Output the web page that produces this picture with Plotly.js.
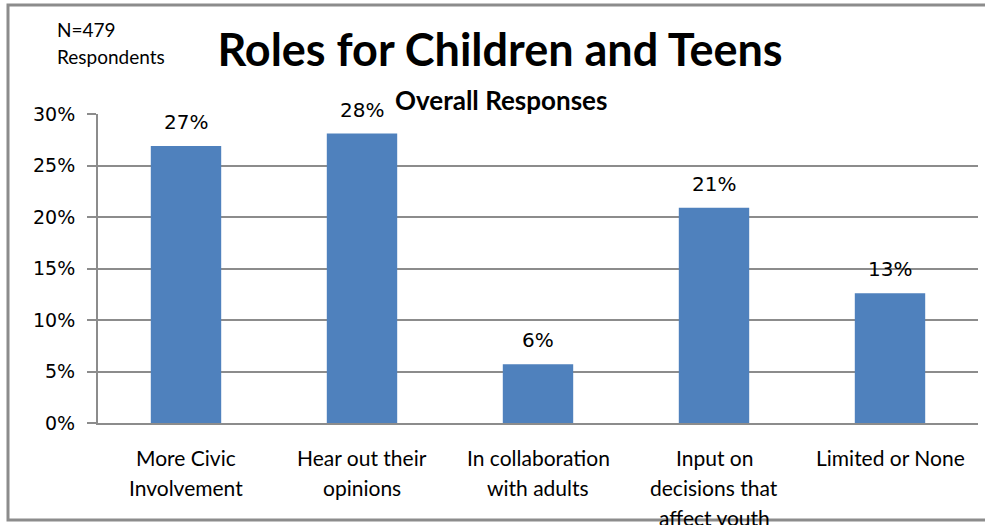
<!DOCTYPE html>
<html>
<head>
<meta charset="utf-8">
<script src="https://cdn.plot.ly/plotly-3.0.1.min.js"></script>
<style>html,body{margin:0;padding:0;background:#fff;}</style>
</head>
<body>
<div id="chart" style="width:985px;height:525px;"></div>
<script>
// ---- data ----
const categories = ["More Civic<br>Involvement", "Hear out their<br>opinions", "In collaboration<br>with adults", "Input on<br>decisions that<br>affect youth", "Limited or None"];
const values = [26.9, 28.1, 5.7, 20.9, 12.6];
const yTickVals = [0, 5, 10, 15, 20, 25, 30];
const yTickText = ["0%", "5%", "10%", "15%", "20%", "25%", "30%"];
const titleText = "Roles for Children and Teens";
const subtitleText = "Overall Responses";
const noteLines = ["N=479", "Respondents"];

// ---- layout helpers (pixel -> paper) ----
const W = 985, H = 525;
const L = 98, R = 7, T = 114, B = 102;
const pw = W - L - R, ph = H - T - B;
const xp = px => (px - L) / pw;
const yp = py => (H - B - py) / ph;

const gray = '#8c8c8c';
const sansFam = 'Lato, "Liberation Sans", sans-serif';
const labelFont = {family: sansFam, size: 21, color: '#000'};

const annotations = [];
// data labels
categories.forEach((c, i) => {
  annotations.push({
    x: i, y: values[i], xref: 'x', yref: 'y',
    text: Math.round(values[i]) + '%', showarrow: false,
    yshift: 24, yanchor: 'middle', xanchor: 'center',
    font: {family: '"DejaVu Sans", sans-serif', size: 20, color: '#000'}
  });
});
// category labels (line spacing 30px)
categories.forEach((c, i) => {
  c.split('<br>').forEach((line, j) => {
    annotations.push({
      x: i, xref: 'x', y: yp(457 + 30 * j), yref: 'paper',
      text: line, showarrow: false, yanchor: 'middle', xanchor: 'center',
      font: labelFont
    });
  });
});
// subtitle
annotations.push({
  x: xp(501), y: yp(100), xref: 'paper', yref: 'paper', text: '<b>' + subtitleText + '</b>',
  showarrow: false, xanchor: 'center', yanchor: 'middle',
  font: {family: sansFam, size: 26, color: '#000'}
});
// note
noteLines.forEach((t, j) => {
  annotations.push({
    x: xp(55), y: yp(30 + 26 * j), xref: 'paper', yref: 'paper', text: t,
    showarrow: false, xanchor: 'left', yanchor: 'middle',
    font: {family: sansFam, size: 19, color: '#000'}
  });
});

const trace = {
  type: 'bar',
  x: categories.map((c, i) => i),
  y: values,
  marker: {color: '#4f81bd'},
  hoverinfo: 'none'
};

const layout = {
  width: W, height: H,
  margin: {l: L, r: R, t: T, b: B, pad: 0},
  paper_bgcolor: '#fff', plot_bgcolor: '#fff',
  showlegend: false,
  bargap: 0.6,
  title: {
    text: '<b>' + titleText + '</b>',
    x: 500 / W, xref: 'container', xanchor: 'center',
    y: 1 - 50 / H, yref: 'container', yanchor: 'middle',
    font: {family: sansFam, size: 45, color: '#000'}
  },
  xaxis: {
    range: [-0.5, categories.length - 0.5],
    showticklabels: false, ticks: '',
    showline: true, linecolor: gray, linewidth: 2,
    showgrid: false, zeroline: false, fixedrange: true
  },
  yaxis: {
    range: [0, 30],
    tickvals: yTickVals, ticktext: yTickText,
    ticks: 'outside', ticklen: 9, tickcolor: gray, tickwidth: 2,
    ticklabelstandoff: 8,
    showline: true, linecolor: gray, linewidth: 2,
    showgrid: true, gridcolor: gray, gridwidth: 2,
    zeroline: false, fixedrange: true,
    tickfont: {family: '"DejaVu Sans", sans-serif', size: 19, color: '#000'}
  },
  annotations: annotations,
  shapes: [{
    type: 'path', xref: 'paper', yref: 'paper',
    path: `M ${xp(985)} ${yp(5)} L ${xp(8)} ${yp(5)} L ${xp(8)} ${yp(520)} L ${xp(985)} ${yp(520)}`,
    line: {color: gray, width: 3}
  }]
};

Plotly.newPlot('chart', [trace], layout, {displayModeBar: false, staticPlot: true});
</script>
</body>
</html>
